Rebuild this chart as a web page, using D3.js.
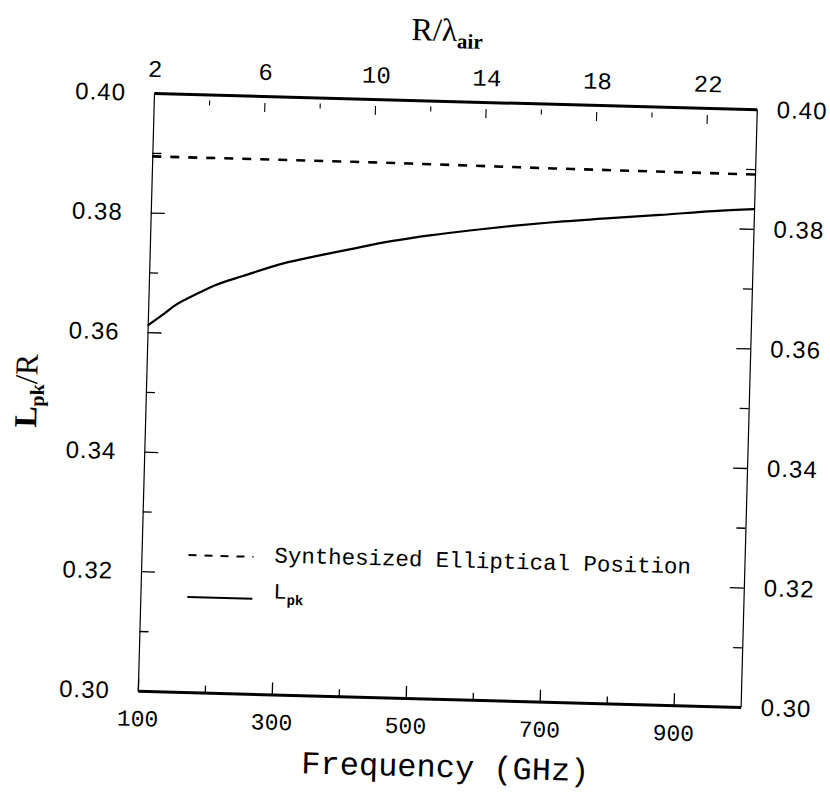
<!DOCTYPE html>
<html>
<head>
<meta charset="utf-8">
<script src="https://cdn.jsdelivr.net/npm/d3@7"></script>
<style>
  html, body { margin: 0; padding: 0; background: #fff; }
  svg { display: block; }
</style>
</head>
<body>
<svg id="chart" width="830" height="795"></svg>
<script>
// Frequency sweep (GHz) and peak position ratio L_pk / R
const freqGHz  = [100, 120, 140, 170, 200, 240, 300, 350, 400, 460, 520, 580, 640, 700, 780, 860, 940, 1000];
const lpkRatio = [0.3611, 0.3628, 0.3646, 0.3665, 0.3682, 0.3698, 0.3721, 0.3735, 0.3748, 0.3763,
                  0.3775, 0.3785, 0.3794, 0.3802, 0.3811, 0.3819, 0.3828, 0.3833];

// Synthesized elliptical position
const ellipFreq  = [100, 400, 700, 1000];
const ellipRatio = [0.3894, 0.3894, 0.3892, 0.3891];

// Tick values
const freqMajor = [100, 300, 500, 700, 900];
const freqMinor = [200, 400, 600, 800];
const rlMajor   = [2, 6, 10, 14, 18, 22];
const rlMinor   = [4, 8, 12, 16, 20];
const yMajor    = [0.30, 0.32, 0.34, 0.36, 0.38, 0.40];
const yMinor    = [0.31, 0.33, 0.35, 0.37, 0.39];

const legendLabels = ["Synthesized Elliptical Position", "L", "pk"];

const W = 603, H = 598;
const svg = d3.select("#chart");
const g = svg.append("g").attr("transform", "translate(154,93) rotate(1.55)");

const x = d3.scaleLinear().domain([100, 1000]).range([0, W]);
const xTop = d3.scaleLinear().domain([2, 23.8]).range([0, W]);
const y = d3.scaleLinear().domain([0.30, 0.40]).range([H, 0]);

const mono = "'Liberation Mono', 'DejaVu Sans Mono', monospace";
const sans = "'Liberation Sans', Arial, sans-serif";
const serif = "'Liberation Serif', 'Times New Roman', serif";

function styleAxis(sel, font, size, domainWidth) {
  sel.selectAll("text").attr("font-family", font).attr("font-size", size).attr("fill", "#000");
  sel.selectAll(".tick line").attr("stroke", "#000").attr("stroke-width", 1.3);
  sel.select(".domain").attr("stroke", "#000").attr("stroke-width", domainWidth);
}

// bottom axis (frequency)
const bMaj = g.append("g").attr("transform", `translate(0,${H})`)
  .call(d3.axisBottom(x).tickValues(freqMajor).tickSizeInner(-12).tickSizeOuter(0).tickPadding(19).tickFormat(d3.format("d")));
styleAxis(bMaj, mono, 23, 3);
const bMin = g.append("g").attr("transform", `translate(0,${H})`)
  .call(d3.axisBottom(x).tickValues(freqMinor).tickSizeInner(-7).tickSizeOuter(0).tickFormat(""));
styleAxis(bMin, mono, 23, 0);
bMin.select(".domain").remove();

// top axis (R / lambda_air), ticks sit slightly off the frame line
const tMaj = g.append("g")
  .call(d3.axisTop(xTop).tickValues(rlMajor).tickSizeInner(0).tickSizeOuter(0).tickPadding(16).tickFormat(d3.format("d")));
styleAxis(tMaj, mono, 24, 3);
tMaj.selectAll(".tick line").attr("y1", 7).attr("y2", 16).attr("stroke-width", 1.1);
tMaj.selectAll(".tick").filter(d => d === 2).select("line").remove();
const tMin = g.append("g")
  .call(d3.axisTop(xTop).tickValues(rlMinor).tickSizeInner(0).tickSizeOuter(0).tickFormat(""));
styleAxis(tMin, mono, 24, 0);
tMin.select(".domain").remove();
tMin.selectAll(".tick line").attr("y1", 6).attr("y2", 11).attr("stroke-width", 1.1);

// left axis
const lMaj = g.append("g")
  .call(d3.axisLeft(y).tickValues(yMajor).tickSizeInner(-14).tickSizeOuter(0).tickPadding(28).tickFormat(d3.format(".2f")));
styleAxis(lMaj, sans, 24, 1.2);
lMaj.selectAll("text").attr("letter-spacing", 1);
const lMin = g.append("g")
  .call(d3.axisLeft(y).tickValues(yMinor).tickSizeInner(-9).tickSizeOuter(0).tickFormat(""));
styleAxis(lMin, sans, 24, 0);
lMin.select(".domain").remove();

// right axis
const rMaj = g.append("g").attr("transform", `translate(${W},0)`)
  .call(d3.axisRight(y).tickValues(yMajor).tickSizeInner(-14).tickSizeOuter(0).tickPadding(20).tickFormat(d3.format(".2f")));
styleAxis(rMaj, sans, 24, 1.2);
rMaj.selectAll("text").attr("letter-spacing", 1);
const rMin = g.append("g").attr("transform", `translate(${W},0)`)
  .call(d3.axisRight(y).tickValues(yMinor).tickSizeInner(-9).tickSizeOuter(0).tickFormat(""));
styleAxis(rMin, sans, 24, 0);
rMin.select(".domain").remove();

// data lines
const line = d3.line().x(d => x(d[0])).y(d => y(d[1])).curve(d3.curveMonotoneX);

g.append("path")
  .datum(d3.zip(ellipFreq, ellipRatio))
  .attr("d", line)
  .attr("fill", "none").attr("stroke", "#000").attr("stroke-width", 2.6)
  .attr("stroke-dasharray", "9,9");

g.append("path")
  .datum(d3.zip(freqGHz, lpkRatio))
  .attr("d", line)
  .attr("fill", "none").attr("stroke", "#000").attr("stroke-width", 2.2);

// axis titles
g.append("text")
  .attr("x", W / 2 + 8).attr("y", H + 78)
  .attr("text-anchor", "middle")
  .attr("font-family", mono).attr("font-size", 32)
  .text("Frequency (GHz)");

const topTitle = g.append("text")
  .attr("x", W / 2 - 10).attr("y", -60)
  .attr("text-anchor", "middle")
  .attr("font-family", serif).attr("font-size", 32);
topTitle.append("tspan").text("R/\u03bb");
topTitle.append("tspan").attr("dy", 7).attr("font-size", 21).attr("font-weight", "bold").text("air");

const yTitle = g.append("text")
  .attr("transform", `translate(-109,${H / 2 + 2}) rotate(-90)`)
  .attr("text-anchor", "middle")
  .attr("font-family", serif).attr("font-size", 32);
yTitle.append("tspan").attr("font-weight", "bold").text("L");
yTitle.append("tspan").attr("dy", 7).attr("font-size", 20).attr("font-weight", "bold").text("pk");
yTitle.append("tspan").attr("dy", -7).text("/R");

// legend
const leg = g.append("g");
leg.append("line")
  .attr("x1", 47).attr("x2", 112).attr("y1", 461).attr("y2", 461)
  .attr("stroke", "#000").attr("stroke-width", 2).attr("stroke-dasharray", "8,8");
leg.append("text")
  .attr("x", 133).attr("y", 466)
  .attr("font-family", mono).attr("font-size", 22.4)
  .text(legendLabels[0]);
leg.append("line")
  .attr("x1", 47).attr("x2", 112).attr("y1", 503).attr("y2", 503)
  .attr("stroke", "#000").attr("stroke-width", 2);
const lpkLabel = leg.append("text")
  .attr("x", 133).attr("y", 502)
  .attr("font-family", mono).attr("font-size", 22);
lpkLabel.append("tspan").text(legendLabels[1]);
lpkLabel.append("tspan").attr("dy", 6).attr("font-size", 14).attr("font-weight", "bold").text(legendLabels[2]);
</script>
</body>
</html>
